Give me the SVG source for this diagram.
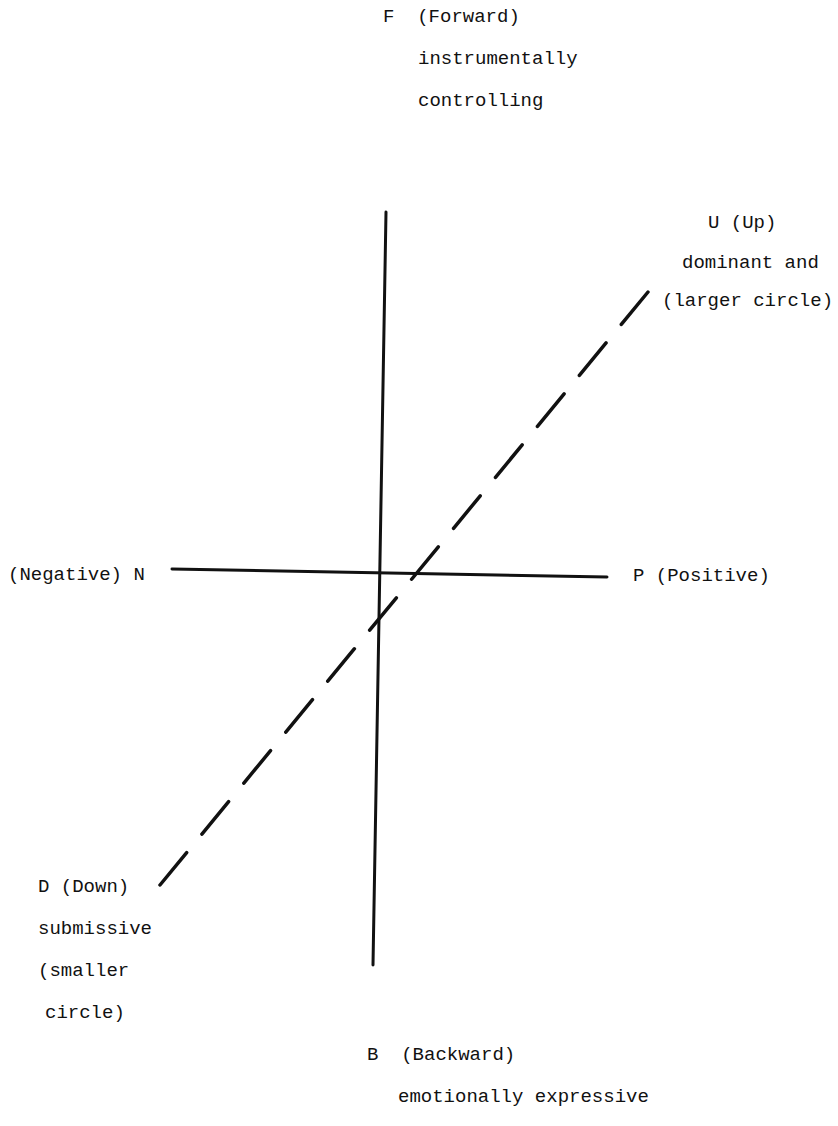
<svg xmlns="http://www.w3.org/2000/svg" width="838" height="1126" viewBox="0 0 838 1126">
<style>
text{font-family:"Liberation Mono","DejaVu Sans Mono",monospace;font-size:19px;fill:#111}
.axis{stroke:#111;stroke-width:3;stroke-linecap:round;fill:none}
.dash{stroke:#111;stroke-width:3.5;stroke-linecap:round;fill:none;stroke-dasharray:42 24}
</style>
<rect width="838" height="1126" fill="#fff"/>
<g id="connectors">
<line class="axis" x1="386" y1="212" x2="373" y2="965"/>
<line class="axis" x1="172" y1="569" x2="607" y2="577"/>
<line class="dash" x1="648" y1="292" x2="160" y2="885"/>
</g>
<g id="node-F">
<text x="383" y="22" xml:space="preserve">F  (Forward)</text>
<text x="418" y="64">instrumentally</text>
<text x="418" y="106">controlling</text>
</g>
<g id="node-U">
<text x="708" y="228">U (Up)</text>
<text x="682" y="268">dominant and</text>
<text x="662" y="306">(larger circle)</text>
</g>
<g id="node-N">
<text x="8" y="580">(Negative) N</text>
</g>
<g id="node-P">
<text x="633" y="581">P (Positive)</text>
</g>
<g id="node-D">
<text x="38" y="892">D (Down)</text>
<text x="38" y="934">submissive</text>
<text x="38" y="976">(smaller</text>
<text x="45" y="1018">circle)</text>
</g>
<g id="node-B">
<text x="367" y="1060" xml:space="preserve">B  (Backward)</text>
<text x="398" y="1102">emotionally expressive</text>
</g>
</svg>
